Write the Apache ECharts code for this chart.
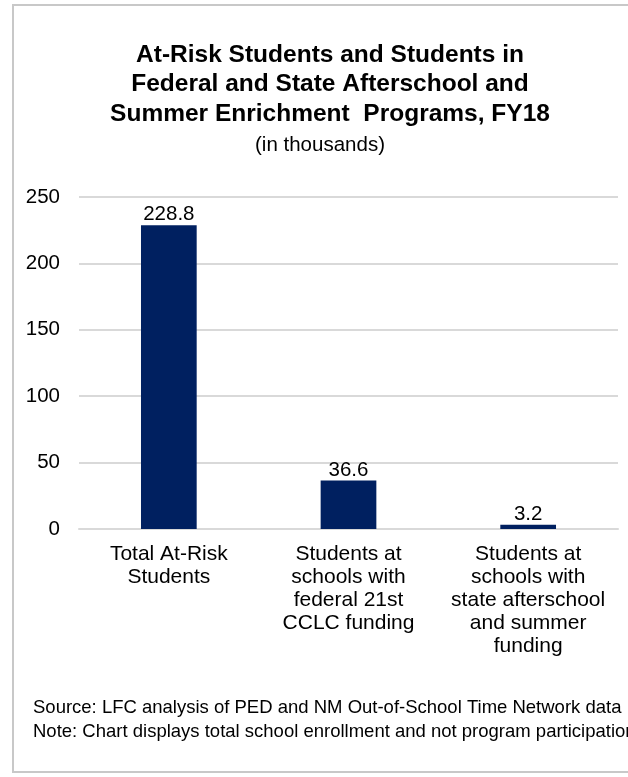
<!DOCTYPE html>
<html>
<head>
<meta charset="utf-8">
<script src="https://cdn.jsdelivr.net/npm/echarts@6/dist/echarts.min.js"></script>
<style>
  html, body { margin: 0; padding: 0; background: #fff; }
  #chart { width: 628px; height: 777px; }
</style>
</head>
<body>
<div id="chart"></div>
<script>
// Enrollment counts, in thousands
const categories = [
  'Total At-Risk\nStudents',
  'Students at\nschools with\nfederal 21st\nCCLC funding',
  'Students at\nschools with\nstate afterschool\nand summer\nfunding'
];
const students = [228.8, 36.6, 3.2];
const yTicks = [0, 50, 100, 150, 200, 250];

const titleLines = [
  'At-Risk Students and Students in',
  'Federal and State Afterschool and',
  'Summer Enrichment  Programs, FY18'
];
const subtitle = '(in thousands)';
const notes = [
  'Source: LFC analysis of PED and NM Out-of-School Time Network data',
  'Note: Chart displays total school enrollment and not program participation'
];

const font = '"Liberation Sans", Arial, sans-serif';
const chart = echarts.init(document.getElementById('chart'), null, { renderer: 'canvas' });

chart.setOption({
  backgroundColor: '#ffffff',
  animation: false,
  title: [
    {
      text: titleLines.join('\n'),
      left: 330, top: 40, padding: 0, textAlign: 'center',
      textStyle: { fontFamily: font, fontSize: 24.5, fontWeight: 'bold', color: '#000', lineHeight: 29.5 }
    },
    {
      text: subtitle,
      left: 320, top: 135, padding: 0, textAlign: 'center',
      textStyle: { fontFamily: font, fontSize: 20.5, fontWeight: 'normal', color: '#000' }
    },
    {
      text: notes.join('\n'),
      left: 33, top: 696, padding: 0,
      textStyle: { fontFamily: font, fontSize: 18.5, fontWeight: 'normal', color: '#000', lineHeight: 24 }
    }
  ],
  graphic: [
    {
      type: 'rect',
      shape: { x: 13, y: 5, width: 640, height: 767 },
      style: { fill: 'none', stroke: '#c8c8c8', lineWidth: 2 },
      silent: true
    }
  ],
  grid: { left: 79, right: 10, top: 197, bottom: 248, containLabel: false },
  xAxis: {
    type: 'category',
    data: categories,
    axisLine: { show: true, lineStyle: { color: '#d9d9d9', width: 2 } },
    axisTick: { show: false },
    axisLabel: {
      fontFamily: font, fontSize: 21, color: '#000', lineHeight: 23,
      margin: 14, interval: 0, align: 'center'
    }
  },
  yAxis: {
    type: 'value',
    min: yTicks[0],
    max: yTicks[yTicks.length - 1],
    interval: yTicks[1] - yTicks[0],
    axisLine: { show: false },
    axisTick: { show: false },
    splitLine: { lineStyle: { color: '#d9d9d9', width: 2 } },
    axisLabel: { fontFamily: font, fontSize: 20.5, color: '#000', margin: 19 }
  },
  series: [
    {
      type: 'bar',
      data: students,
      barWidth: '31%',
      itemStyle: { color: '#002060' },
      label: {
        show: true, position: 'top', distance: 0,
        fontFamily: font, fontSize: 20.5, color: '#000',
        formatter: p => p.value.toFixed(1)
      }
    }
  ]
});
</script>
</body>
</html>
